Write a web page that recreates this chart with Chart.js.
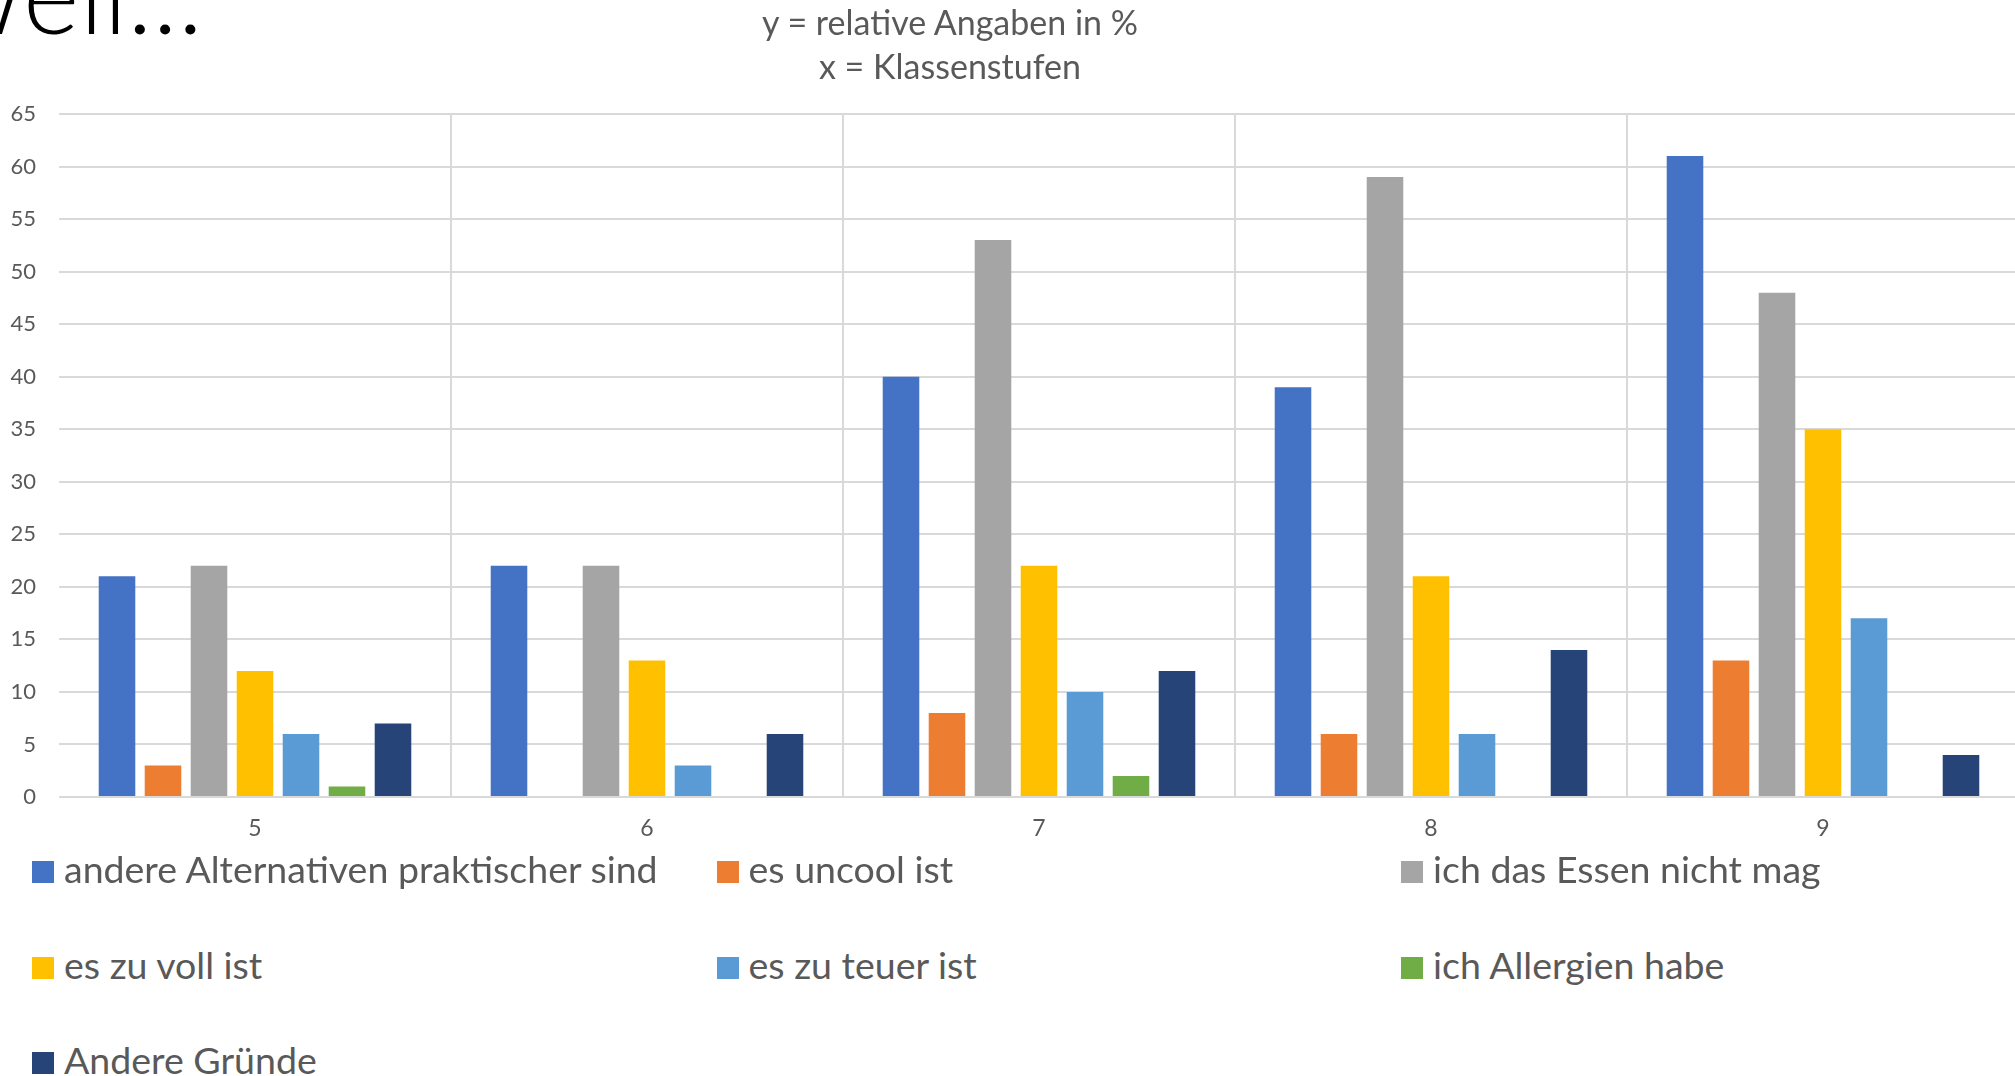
<!DOCTYPE html>
<html lang="de">
<head>
<meta charset="utf-8">
<title>Weil...</title>
<script src="https://cdn.jsdelivr.net/npm/chart.js@4.4.1/dist/chart.umd.min.js"></script>
<style>
    html, body {
        margin: 0;
        width: 2015px;
        height: 1076px;
        overflow: hidden;
        background: #ffffff;
        font-family: Lato, "Open Sans", sans-serif;
    }
    #heading {
        position: absolute;
        right: 1812px;
        top: -62px;
        font-size: 108px;
        line-height: 108px;
        font-weight: 300;
        color: #000000;
        white-space: nowrap;
    }
    #chart-title {
        position: absolute;
        left: 950px;
        top: 0px;
        transform: translateX(-50%);
        text-align: center;
        font-size: 34px;
        line-height: 44px;
        color: #595959;
        white-space: nowrap;
    }
    #chart-wrap {
        position: absolute;
        left: 0;
        top: 0;
        width: 2019px;
        height: 860px;
    }
    .legend-item {
        position: absolute;
        white-space: nowrap;
    }
    .legend-box {
        position: absolute;
        left: 0;
        top: 0;
        width: 22px;
        height: 22px;
    }
    .legend-text {
        position: absolute;
        left: 32px;
        top: -11px;
        font-size: 37.5px;
        line-height: 37px;
        color: #595959;
    }
</style>
</head>
<body>
<div id="heading">Weil...</div>
<div id="chart-wrap"><canvas id="reasons-chart"></canvas></div>
<div id="chart-title">y = relative Angaben in %<br>x = Klassenstufen</div>
<div id="legend"></div>

<script>
// Klassenstufen
const classLevels = ["5", "6", "7", "8", "9"];

// relative Angaben in %
const alternativesValues = [21, 22, 40, 39, 61];
const uncoolValues = [3, 0, 8, 6, 13];
const dislikeValues = [22, 22, 53, 59, 48];
const crowdedValues = [12, 13, 22, 21, 35];
const expensiveValues = [6, 3, 10, 6, 17];
const allergyValues = [1, 0, 2, 0, 0];
const otherValues = [7, 6, 12, 14, 4];

const seriesLabels = [
    "andere Alternativen praktischer sind",
    "es uncool ist",
    "ich das Essen nicht mag",
    "es zu voll ist",
    "es zu teuer ist",
    "ich Allergien habe",
    "Andere Gründe",
];
const seriesValues = [
    alternativesValues,
    uncoolValues,
    dislikeValues,
    crowdedValues,
    expensiveValues,
    allergyValues,
    otherValues,
];
const seriesColors = [
    "#4472C4",
    "#ED7D31",
    "#A5A5A5",
    "#FFC000",
    "#5B9BD5",
    "#70AD47",
    "#264478",
];

const yTicks = [0, 5, 10, 15, 20, 25, 30, 35, 40, 45, 50, 55, 60, 65];

Chart.defaults.font.family = "Lato, 'Open Sans', sans-serif";
Chart.defaults.color = "#595959";

const gridColor = "#d9d9d9";

const datasets = seriesLabels.map((label, i) => ({
    label,
    data: seriesValues[i],
    backgroundColor: seriesColors[i],
    borderWidth: 0,
    categoryPercentage: 0.8214,
    barPercentage: 0.795,
}));

new Chart(document.getElementById("reasons-chart"), {
    type: "bar",
    data: { labels: classLevels, datasets },
    options: {
        responsive: true,
        maintainAspectRatio: false,
        animation: false,
        // room for the html title above the plot
        layout: { padding: { top: 114 } },
        plugins: {
            legend: { display: false },
            tooltip: { enabled: false },
        },
        scales: {
            x: {
                border: { display: false },
                grid: {
                    offset: true,
                    drawTicks: false,
                    lineWidth: 2,
                    color: (ctx) => (ctx.index === 0 ? "rgba(0,0,0,0)" : gridColor),
                },
                ticks: { padding: 18, font: { size: 23 } },
                afterFit: (scale) => {
                    scale.height = 63;
                },
            },
            y: {
                min: 0,
                max: 65,
                border: { display: false },
                grid: { drawTicks: false, lineWidth: 2, color: gridColor },
                afterBuildTicks: (scale) => {
                    scale.ticks = yTicks.map((v) => ({ value: v }));
                },
                ticks: { padding: 23, font: { size: 22 } },
                afterFit: (scale) => {
                    scale.width = 59;
                },
            },
        },
    },
});

// HTML legend, three columns
const legendEl = document.getElementById("legend");
legendEl.innerHTML = seriesLabels
    .map((label, i) => {
        const col = i % 3;
        const row = Math.floor(i / 3);
        const left = 32 + col * 684.5;
        const top = 861 + row * 95.5;
        return `<div class="legend-item" style="left:${left}px;top:${top}px">
            <span class="legend-box" style="background:${seriesColors[i]}"></span>
            <span class="legend-text">${label}</span>
        </div>`;
    })
    .join("");
</script>
</body>
</html>
